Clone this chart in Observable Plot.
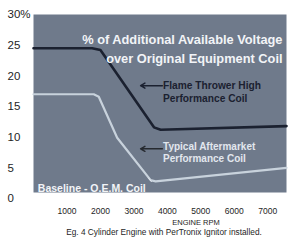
<!DOCTYPE html>
<html><head><meta charset="utf-8">
<script src="https://cdn.jsdelivr.net/npm/d3@7"></script>
<script src="https://cdn.jsdelivr.net/npm/@observablehq/plot@0.6"></script>
<style>body{margin:0;background:#fff;} svg{display:block;}</style>
</head><body><div id="chart"></div>
<script>
const yTicks = [0, 5, 10, 15, 20, 25, 30];
const xTicks = [1000, 2000, 3000, 4000, 5000, 6000, 7000];
// Flame Thrower High Performance Coil (dark line)
const flameRpm = [0, 1750, 2000, 3600, 3800, 7560];
const flameVal = [24.5, 24.5, 24.2, 11.6, 11.2, 11.8];
// Typical Aftermarket Performance Coil (light line)
const typicalRpm = [0, 1800, 1950, 2500, 3500, 3650, 7560];
const typicalVal = [17.0, 17.0, 16.6, 9.9, 3.0, 2.8, 5.0];

const flame = flameRpm.map((x, i) => ({x, y: flameVal[i]}));
const typical = typicalRpm.map((x, i) => ({x, y: typicalVal[i]}));

const font = "'Liberation Sans Narrow', 'Liberation Sans', Arial, sans-serif";

const chart = Plot.plot({
  width: 290, height: 244,
  marginLeft: 33, marginRight: 4, marginTop: 14, marginBottom: 46,
  style: {fontFamily: font, background: "#fff", color: "#1e1e1e"},
  x: {domain: [0, 7560]},
  y: {domain: [0, 30]},
  marks: [
    Plot.frame({fill: "#6f7a8b", stroke: null, insetBottom: 6}),
    Plot.axisY({ticks: yTicks, tickSize: 0, tickPadding: 0, textAnchor: "start", dx: -26,
      fontSize: 11.5, label: null, tickFormat: d => d === 30 ? "30%" : String(d)}),
    Plot.axisX({ticks: xTicks, tickSize: 0, tickPadding: 9, fontSize: 8.5, label: null,
      tickFormat: d => String(d)}),
    Plot.line(typical, {x: "x", y: "y", stroke: "#c8d2dc", strokeWidth: 2.2}),
    Plot.line(flame, {x: "x", y: "y", stroke: "#1b2130", strokeWidth: 2.6}),
    Plot.text(["% of Additional Available Voltage"], {
      frameAnchor: "top-right", textAnchor: "end", dx: -4, dy: 20,
      fill: "#f2f4f7", fontSize: 12.8, fontWeight: "bold"}),
    Plot.text(["over Original Equipment Coil"], {
      frameAnchor: "top-right", textAnchor: "end", dx: -4, dy: 39,
      fill: "#f2f4f7", fontSize: 12.8, fontWeight: "bold"}),
    Plot.text(["Flame Thrower High\nPerformance Coil"], {x: 3870, y: 17.45, textAnchor: "start",
      fill: "#1b2130", fontSize: 10.2, fontWeight: "bold", lineHeight: 1.2}),
    Plot.arrow([{x1: 3850, y1: 18.4, x2: 3200, y2: 18.4}], {x1: "x1", y1: "y1", x2: "x2", y2: "y2",
      stroke: "#1b2130", strokeWidth: 1.5, headLength: 5}),
    Plot.text(["Typical Aftermarket\nPerformance Coil"], {x: 3870, y: 7.6, textAnchor: "start",
      fill: "#e2e7ee", fontSize: 10, fontWeight: "bold", lineHeight: 1.2}),
    Plot.arrow([{x1: 3850, y1: 8.1, x2: 3200, y2: 8.1}], {x1: "x1", y1: "y1", x2: "x2", y2: "y2",
      stroke: "#262a30", strokeWidth: 1.5, headLength: 5}),
    Plot.text(["Baseline - O.E.M. Coil"], {x: 130, y: 1.6, textAnchor: "start",
      fill: "#f2f4f7", fontSize: 10.5, fontWeight: "bold"}),
    Plot.link([{x1: 3430, y1: 3.4, x2: 3530, y2: 2.7}], {x1: "x1", y1: "y1", x2: "x2", y2: "y2",
      stroke: "#e2e7ee", strokeWidth: 1}),
    Plot.text(["ENGINE RPM"], {frameAnchor: "bottom", dx: 36, dy: 26, fontSize: 7.5, fill: "#1e1e1e"}),
    Plot.text(["Eg. 4 Cylinder Engine with PerTronix Ignitor installed."], {frameAnchor: "bottom",
      dx: 4, dy: 36, fontSize: 8.3, fill: "#1e1e1e"})
  ]
});
document.getElementById("chart").append(chart);
</script>
</body></html>
